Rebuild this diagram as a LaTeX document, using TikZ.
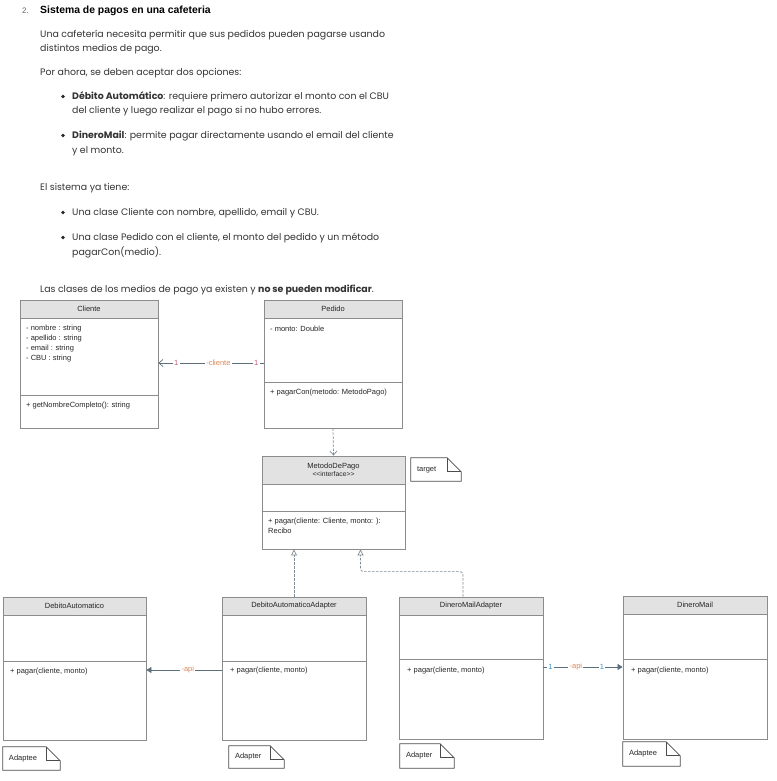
\documentclass[tikz,border=0pt]{standalone}
\usepackage{fontspec}
\setmainfont{Poppins}
\newfontfamily\arialf{Liberation Sans}
\usetikzlibrary{arrows.meta}
\definecolor{border}{HTML}{8C8C8C}
\definecolor{headgrey}{HTML}{E2E2E2}
\definecolor{conn}{HTML}{5B6F7C}
\definecolor{lblred}{HTML}{C85A72}
\definecolor{lblorange}{HTML}{D9875A}
\definecolor{lblblue}{HTML}{3D8FC4}
\definecolor{bodytext}{HTML}{333333}
\tikzset{
  classbox/.style={draw=border, line width=0.8pt, inner sep=0pt, fill=none},
  classline/.style={draw=border, line width=0.8pt},
  headfill/.style={fill=headgrey},
  umltext/.style={font=\arialf\fontsize{7.5}{10}\selectfont, inner sep=0pt, text=black!85},
  bodyline/.style={font=\fontsize{9.4}{11}\selectfont, text=bodytext, anchor=base west, inner sep=0pt},
  bulletdot/.style={circle, fill=black!85, inner sep=0pt, minimum size=3.6pt},
  notedraw/.style={draw=black!70, line width=0.7pt},
  assoc/.style={draw=conn, line width=0.7pt},
  dashconn/.style={draw=conn!80, line width=0.7pt, dashed, dash pattern=on 2.5pt off 1.5pt},
  lbl/.style={font=\arialf\fontsize{7.5}{8}\selectfont, fill=white, inner sep=1.2pt},
}
\newcommand{\umlclass}[8]{%
  \fill[headfill] (#2,#3) rectangle (#4,#6);
  \node[classbox, minimum width={#4-#2}, minimum height={#5-#3}] (#1) at ({(#2+#4)/2},{(#3+#5)/2}) {};
  \draw[classline] (#2,#6) -- (#4,#6);
  \draw[classline] (#2,#7) -- (#4,#7);
  \node[umltext, align=center] (#1-title) at ({(#2+#4)/2},{(#3+#6)/2}) {#8};
}
\newcommand{\umlnote}[6]{%
  \node[minimum width={#4-#2}, minimum height={#5-#3}, inner sep=0pt, draw=none] (#1) at ({(#2+#4)/2},{(#3+#5)/2}) {};
  \draw[notedraw] (#1.north west) -- ([xshift=-14pt]#1.north east) -- ([yshift=-14pt]#1.north east) -- (#1.south east) -- (#1.south west) -- cycle;
  \draw[notedraw] ([xshift=-14pt]#1.north east) |- ([yshift=-14pt]#1.north east);
  \node[umltext, anchor=west] (#1-text) at ([xshift=6pt]#1.west) {#6};
}
\begin{document}
\begin{tikzpicture}[x=1pt,y=-1pt]
\useasboundingbox[fill=white] (0,0) rectangle (776,781);

% ---------- text ----------
\node[bodyline, font=\arialf\fontsize{8}{9}\selectfont, text=black!60] (num) at (22,13.5) {2.};
\node[bodyline, font=\arialf\bfseries\fontsize{10.4}{12}\selectfont, text=black] (title) at (40,13.5) {Sistema de pagos en una cafeteria};
\node[bodyline] (t1) at (40,37.5) {Una cafetería necesita permitir que sus pedidos pueden pagarse usando};
\node[bodyline] (t2) at (40,51.5) {distintos medios de pago.};
\node[bodyline] (t3) at (40,75.5) {Por ahora, se deben aceptar dos opciones:};
\node[bulletdot] (b1) at (63,96.5) {};
\node[bodyline] (t4) at (72,99.5) {\textbf{Débito Automático}: requiere primero autorizar el monto con el CBU};
\node[bodyline] (t5) at (72,113.5) {del cliente y luego realizar el pago si no hubo errores.};
\node[bulletdot] (b2) at (63,135.5) {};
\node[bodyline] (t6) at (72,138.5) {\textbf{DineroMail}: permite pagar directamente usando el email del cliente};
\node[bodyline] (t7) at (72,153.5) {y el monto.};
\node[bodyline] (t8) at (40,190.5) {El sistema ya tiene:};
\node[bulletdot] (b3) at (63,212.5) {};
\node[bodyline] (t9) at (72,215.5) {Una clase Cliente con nombre, apellido, email y CBU.};
\node[bulletdot] (b4) at (63,237.5) {};
\node[bodyline] (t10) at (72,240.5) {Una clase Pedido con el cliente, el monto del pedido y un método};
\node[bodyline] (t11) at (72,255.5) {pagarCon(medio).};
\node[bodyline] (t12) at (40,292.5) {Las clases de los medios de pago ya existen y \textbf{no se pueden modificar}.};

% ---------- classes ----------
\umlclass{cli}{20}{300}{158}{428}{318}{395}{Cliente}
\node[umltext, anchor=north west, align=left] (cli-attr) at (26,324.5) {- nombre : string\\- apellido : string\\- email : string\\- CBU : string};
\node[umltext, anchor=west] (cli-meth) at (26,406) {+ getNombreCompleto(): string};

\umlclass{ped}{264}{300}{402}{428}{318}{382}{Pedido}
\node[umltext, anchor=west] (ped-attr) at (270,329) {- monto: Double};
\node[umltext, anchor=west] (ped-meth) at (270,393) {+ pagarCon(metodo: MetodoPago)};

\umlclass{mdp}{262}{456}{405}{549}{484}{511}{MetodoDePago\\[-2pt]{\fontsize{6.8}{7}\selectfont<<interface>>}}
\node[umltext, anchor=north west, align=left] (mdp-meth) at (268,517.5) {+ pagar(cliente: Cliente, monto: ):\\Recibo};

\umlclass{da}{3}{597}{146}{740}{615}{661}{DebitoAutomatico}
\node[umltext, anchor=west] (da-meth) at (10,672) {+ pagar(cliente, monto)};

\umlclass{daa}{222}{597}{366}{740}{615}{661}{DebitoAutomaticoAdapter}
\node[umltext, anchor=west] (daa-meth) at (230,671) {+ pagar(cliente, monto)};

\umlclass{dma}{399}{597}{543}{739}{615}{659}{DineroMailAdapter}
\node[umltext, anchor=west] (dma-meth) at (407,671) {+ pagar(cliente, monto)};

\umlclass{dm}{623}{596}{767}{739}{614}{659}{DineroMail}
\node[umltext, anchor=west] (dm-meth) at (631,671) {+ pagar(cliente, monto)};

% ---------- notes ----------
\umlnote{ntarget}{411}{458}{461}{481}{target}
\umlnote{nda}{3}{747}{60}{770}{Adaptee}
\umlnote{ndaa}{229}{746}{284}{768}{Adapter}
\umlnote{ndma}{400}{744}{454}{768}{Adapter}
\umlnote{ndm}{623}{742}{680}{766}{Adaptee}

% ---------- connectors ----------
\draw[assoc, -{Straight Barb[length=4pt,width=7pt]}] ([yshift=1pt]ped.west) -- ([yshift=1pt]ped.west -| cli.east)
  node[lbl, text=lblred, pos=0.07] {1}
  node[lbl, text=lblorange, pos=0.43] {-cliente}
  node[lbl, text=lblred, pos=0.83] {1};

\draw[dashconn, -{Straight Barb[length=4pt,width=7pt]}] (ped.south) -- (mdp.north);

\draw[dashconn, -{Triangle[open,length=6pt,width=6pt,fill=white]}] (daa.north) -- (daa.north |- mdp.south);
\draw[dashconn, rounded corners=3pt, -{Triangle[open,length=6pt,width=6pt,fill=white]}] ([xshift=-8pt]dma.north) -- ++(0,-25) -| ([xshift=27pt]mdp.south);

\draw[assoc, -{Triangle[length=5pt,width=6pt]}] ([yshift=-1.5pt]daa.west) -- ([yshift=-1.5pt]daa.west -| da.east)
  node[lbl, text=lblorange, pos=0.45] {-api};

\draw[assoc, -{Triangle[length=5pt,width=6pt]}] ([yshift=1pt]dma.east) -- ([yshift=1pt]dma.east -| dm.west)
  node[lbl, text=lblblue, pos=0.09] {1}
  node[lbl, text=lblorange, pos=0.41] {-api}
  node[lbl, text=lblblue, pos=0.74] {1};
\end{tikzpicture}
\end{document}
